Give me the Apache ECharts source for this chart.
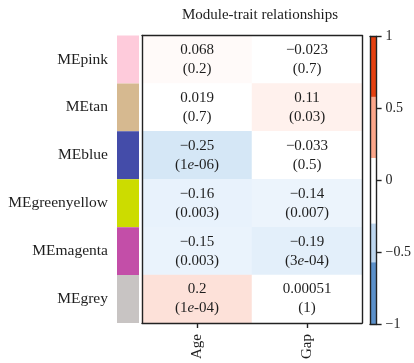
<!DOCTYPE html>
<html>
<head>
<meta charset="utf-8">
<script src="https://cdn.jsdelivr.net/npm/echarts@6/dist/echarts.min.js"></script>
<style>
html,body{margin:0;padding:0;background:#fff;}
#chart{width:414px;height:363px;}
</style>
</head>
<body>
<div id="chart"></div>
<script>
// ---- data ----
var modules = ['MEpink', 'MEtan', 'MEblue', 'MEgreenyellow', 'MEmagenta', 'MEgrey'];
var moduleColors = ['#fecbdb', '#d6b990', '#444ca9', '#ccdc00', '#c34ea8', '#c8c4c3'];
var traits = ['Age', 'Gap'];
var ageCorr = [0.068, 0.019, -0.25, -0.16, -0.15, 0.2];
var agePval = ['0.2', '0.7', '1e-06', '0.003', '0.003', '1e-04'];
var gapCorr = [-0.023, 0.11, -0.033, -0.14, -0.19, 0.00051];
var gapPval = ['0.7', '0.03', '0.5', '0.007', '3e-04', '1'];
var cbTicks = [-1, -0.5, 0, 0.5, 1];
var cbBounds = [-1, -0.57, -0.3, 0.155, 0.58, 1];
var cbColors = ['#5b90ca', '#bdd6ef', '#ffffff', '#fba68a', '#e5400f'];
// colour ramp for cells, one stop every 0.05 from -1 to 1
var heatPalette = [
  '#3a75b8', '#4279bc', '#4a80c0', '#5287c4', '#5b8fc9', '#6698ce', '#72a1d3', '#7fabd8', '#8db5de', '#9abfe3',
  '#a8c9e8', '#b2d0ec', '#bcd7f0', '#c5dcf2', '#cde2f4', '#d5e7f6', '#e1eefa', '#eaf3fc', '#f4f9fe', '#ffffff',
  '#ffffff',
  '#ffffff', '#fff2ee', '#fdeeeb', '#fde1d9', '#fcd4c8', '#fcc8b8', '#fbb9a5', '#fbaa92', '#f99b80', '#f78d6e',
  '#f37d5d', '#f06e4c', '#ec613d', '#e8552f', '#e44b25', '#df421c', '#d93b17', '#d33412', '#cc2f0f', '#c42a0c'
];

var FONT = "'Liberation Serif', 'DejaVu Serif', serif";
var INK = '#1e1e1e';

function minus(s) { return String(s).replace(/-/g, '\u2212'); }
function fmtP(p) {
  var m = p.match(/^(\d+)e(-\d+)$/);
  if (m) return '(' + m[1] + '{i|e}' + m[2] + ')';
  return '(' + p + ')';
}

var heatData = [];
var labels = {};
for (var r = 0; r < modules.length; r++) {
  heatData.push([0, r, ageCorr[r]]);
  labels['0_' + r] = minus(ageCorr[r]) + '\n' + fmtP(agePval[r]);
  heatData.push([1, r, gapCorr[r]]);
  labels['1_' + r] = minus(gapCorr[r]) + '\n' + fmtP(gapPval[r]);
}

var cbData = [];
for (var k = 0; k < cbColors.length; k++) {
  cbData.push([cbBounds[k], cbBounds[k + 1], k]);
}

var chart = echarts.init(document.getElementById('chart'), null, { renderer: 'canvas' });

var lineStyle = { color: '#222222', width: 1.4 };
var AZ = 10;

chart.setOption({
  animation: false,
  backgroundColor: '#ffffff',
  textStyle: { fontFamily: FONT },
  title: {
    text: 'Module-trait relationships',
    left: 255, top: 3, textAlign: 'center',
    textStyle: { fontFamily: FONT, fontSize: 15, fontWeight: 'normal', color: INK }
  },
  grid: [
    { left: 142, top: 35.5, width: 220, height: 287.5 },
    { left: 117, top: 35.5, width: 22, height: 287.5 },
    { left: 370, top: 36.5, width: 8.5, height: 287.5 }
  ],
  visualMap: {
    type: 'continuous', show: false, min: -1, max: 1, seriesIndex: 0,
    inRange: { color: heatPalette }
  },
  xAxis: [
    { gridIndex: 0, type: 'category', data: traits, position: 'bottom', z: AZ,
      axisLine: { show: true, lineStyle: lineStyle },
      axisTick: { show: true, alignWithLabel: true, length: 5, lineStyle: lineStyle },
      axisLabel: { rotate: 90, margin: 11, fontSize: 15, color: INK, fontFamily: FONT },
      splitLine: { show: false } },
    { gridIndex: 0, type: 'category', data: traits, position: 'top', z: AZ,
      axisLine: { show: true, lineStyle: lineStyle },
      axisTick: { show: false }, axisLabel: { show: false }, splitLine: { show: false } },
    { gridIndex: 1, type: 'value', min: 0, max: 1, show: false },
    { gridIndex: 2, type: 'value', min: 0, max: 1, position: 'bottom', z: AZ,
      axisLine: { show: true, onZero: false, lineStyle: lineStyle },
      axisTick: { show: false }, axisLabel: { show: false }, splitLine: { show: false } },
    { gridIndex: 2, type: 'value', min: 0, max: 1, position: 'top', z: AZ,
      axisLine: { show: true, onZero: false, lineStyle: lineStyle },
      axisTick: { show: false }, axisLabel: { show: false }, splitLine: { show: false } }
  ],
  yAxis: [
    { gridIndex: 0, type: 'category', data: modules, inverse: true, position: 'left', z: AZ,
      axisLine: { show: true, lineStyle: lineStyle },
      axisTick: { show: false },
      axisLabel: { margin: 34, fontSize: 15.5, color: INK, fontFamily: FONT },
      splitLine: { show: false } },
    { gridIndex: 0, type: 'category', data: modules, inverse: true, position: 'right', z: AZ,
      axisLine: { show: true, lineStyle: lineStyle },
      axisTick: { show: false }, axisLabel: { show: false }, splitLine: { show: false } },
    { gridIndex: 1, type: 'category', data: modules, inverse: true, show: false },
    { gridIndex: 2, type: 'value', min: cbTicks[0], max: cbTicks[cbTicks.length - 1], interval: 0.5, position: 'right', z: AZ,
      axisLine: { show: true, onZero: false, lineStyle: lineStyle },
      axisTick: { show: true, length: 5, lineStyle: lineStyle },
      axisLabel: { margin: 9, fontSize: 14, color: INK, fontFamily: FONT, formatter: function (v) { return minus(v); } },
      splitLine: { show: false } },
    { gridIndex: 2, type: 'value', min: -1, max: 1, position: 'left', z: AZ,
      axisLine: { show: true, onZero: false, lineStyle: lineStyle },
      axisTick: { show: false }, axisLabel: { show: false }, splitLine: { show: false } }
  ],
  series: [
    {
      type: 'heatmap', xAxisIndex: 0, yAxisIndex: 0, data: heatData, z: 1,
      label: {
        show: true, fontFamily: FONT, fontSize: 15, color: INK, lineHeight: 19,
        formatter: function (p) { return labels[p.data[0] + '_' + p.data[1]]; },
        rich: { i: { fontStyle: 'italic', fontFamily: FONT, fontSize: 15, color: INK, lineHeight: 19 } }
      },
      emphasis: { disabled: true }
    },
    {
      type: 'bar', xAxisIndex: 2, yAxisIndex: 2, barCategoryGap: '0%', z: 1,
      data: moduleColors.map(function (c) { return { value: 1, itemStyle: { color: c } }; }),
      silent: true
    },
    {
      type: 'custom', xAxisIndex: 3, yAxisIndex: 3, data: cbData, silent: true, z: 1,
      renderItem: function (params, api) {
        var lo = api.value(0), hi = api.value(1), idx = api.value(2);
        var p0 = api.coord([0, lo]);
        var p1 = api.coord([1, hi]);
        return {
          type: 'rect',
          shape: { x: p0[0], y: p1[1], width: p1[0] - p0[0], height: p0[1] - p1[1] },
          style: { fill: cbColors[idx] }
        };
      }
    }
  ]
});
</script>
</body>
</html>
